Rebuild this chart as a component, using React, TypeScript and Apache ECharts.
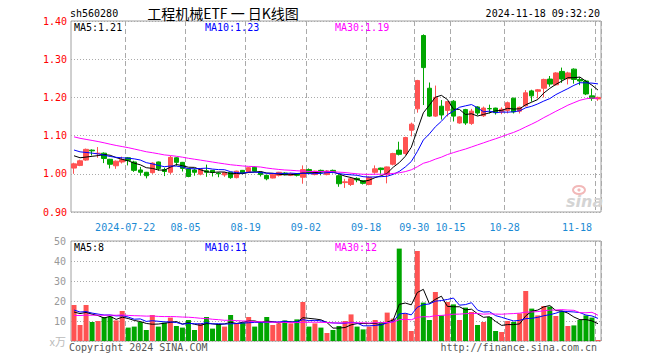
import React, { useEffect, useRef } from 'react';
import * as echarts from 'echarts';

const dates = [
  '2024-07-09','2024-07-10','2024-07-11','2024-07-12','2024-07-15','2024-07-16','2024-07-17','2024-07-18','2024-07-19','2024-07-22',
  '2024-07-23','2024-07-24','2024-07-25','2024-07-26','2024-07-29','2024-07-30','2024-07-31','2024-08-01','2024-08-02','2024-08-05',
  '2024-08-06','2024-08-07','2024-08-08','2024-08-09','2024-08-12','2024-08-13','2024-08-14','2024-08-15','2024-08-16','2024-08-19',
  '2024-08-20','2024-08-21','2024-08-22','2024-08-23','2024-08-26','2024-08-27','2024-08-28','2024-08-29','2024-08-30','2024-09-02',
  '2024-09-03','2024-09-04','2024-09-05','2024-09-06','2024-09-09','2024-09-10','2024-09-11','2024-09-12','2024-09-13','2024-09-18',
  '2024-09-19','2024-09-20','2024-09-23','2024-09-24','2024-09-25','2024-09-26','2024-09-27','2024-09-30','2024-10-08','2024-10-09',
  '2024-10-10','2024-10-11','2024-10-14','2024-10-15','2024-10-16','2024-10-17','2024-10-18','2024-10-21','2024-10-22','2024-10-23',
  '2024-10-24','2024-10-25','2024-10-28','2024-10-29','2024-10-30','2024-10-31','2024-11-01','2024-11-04','2024-11-05','2024-11-06',
  '2024-11-07','2024-11-08','2024-11-11','2024-11-12','2024-11-13','2024-11-14','2024-11-15','2024-11-18'
];

const opens = [
  1.015,1.022,1.036,1.062,1.053,1.054,1.038,1.021,1.031,1.042,
  1.031,1.010,1.004,1.003,1.031,1.011,1.004,1.042,1.030,1.013,
  1.010,0.999,1.008,1.009,1.002,0.997,1.004,0.990,1.009,1.004,
  1.017,1.004,0.996,0.989,0.996,1.002,0.996,1.000,0.991,1.011,
  0.998,1.009,0.998,1.009,0.995,0.977,0.972,0.988,0.982,0.972,
  1.004,1.015,0.998,1.025,1.062,1.053,1.114,1.170,1.362,1.224,
  1.151,1.177,1.166,1.190,1.133,1.168,1.132,1.175,1.152,1.171,
  1.172,1.162,1.166,1.198,1.164,1.178,1.217,1.216,1.224,1.248,
  1.233,1.268,1.249,1.274,1.247,1.243,1.204,1.196
];
const closes = [
  1.026,1.034,1.064,1.060,1.054,1.040,1.025,1.033,1.037,1.035,
  1.009,1.004,0.995,1.028,1.014,1.006,1.043,1.030,1.014,0.993,
  1.004,1.012,1.004,1.004,1.000,1.003,0.990,1.007,1.002,1.016,
  1.007,0.998,0.987,0.999,1.004,0.998,1.000,0.996,1.011,1.003,
  1.007,1.005,1.007,1.004,0.974,0.979,0.987,0.984,0.975,0.991,
  1.013,1.011,1.018,1.053,1.051,1.095,1.130,1.244,1.278,1.151,
  1.200,1.154,1.189,1.151,1.149,1.133,1.164,1.159,1.172,1.170,
  1.160,1.169,1.186,1.162,1.174,1.212,1.204,1.220,1.247,1.235,
  1.264,1.248,1.264,1.247,1.243,1.209,1.197,1.200
];
const lows = [
  1.000,1.020,1.034,1.048,1.042,1.028,1.014,1.013,1.027,1.022,
  1.005,0.995,0.988,1.000,1.008,0.994,0.999,1.021,1.006,0.991,
  0.995,0.996,0.992,0.993,0.991,0.992,0.987,0.988,0.999,1.002,
  1.005,0.993,0.983,0.988,0.993,0.996,0.994,0.993,0.974,1.000,
  0.996,0.996,0.996,1.001,0.966,0.963,0.968,0.978,0.972,0.970,
  1.000,1.000,0.975,1.022,1.048,1.050,1.098,1.160,1.180,1.149,
  1.149,1.142,1.150,1.137,1.131,1.128,1.128,1.153,1.149,1.158,
  1.155,1.156,1.158,1.158,1.158,1.176,1.189,1.197,1.200,1.228,
  1.231,1.238,1.234,1.236,1.232,1.206,1.191,1.191
];
const highs = [
  1.029,1.037,1.066,1.064,1.070,1.056,1.039,1.035,1.045,1.044,
  1.034,1.018,1.005,1.030,1.032,1.016,1.047,1.044,1.031,1.014,
  1.014,1.015,1.024,1.010,1.004,1.005,1.005,1.008,1.010,1.018,
  1.019,1.005,0.997,1.001,1.005,1.004,1.003,1.002,1.022,1.014,
  1.008,1.011,1.009,1.011,0.998,0.987,0.990,0.991,0.983,0.993,
  1.022,1.016,1.019,1.055,1.084,1.097,1.134,1.246,1.365,1.239,
  1.231,1.193,1.190,1.193,1.151,1.170,1.170,1.177,1.176,1.181,
  1.173,1.174,1.189,1.199,1.176,1.219,1.220,1.222,1.249,1.256,
  1.266,1.278,1.267,1.276,1.253,1.246,1.223,1.202
];
// volume in 万手
const volumes = [
  18.0,8.0,18.0,9.5,10.0,12.0,12.2,10.3,15.0,6.7,
  7.2,9.5,5.5,13.0,7.2,9.2,11.7,7.5,6.7,10.5,
  5.5,8.8,12.0,6.2,8.5,7.2,13.0,8.8,9.2,12.0,
  7.2,9.2,12.0,8.0,8.8,10.3,8.8,10.8,19.5,7.2,
  8.8,6.7,4.0,5.5,7.5,10.0,13.3,7.2,5.8,7.2,
  10.5,9.5,14.2,11.2,46.2,13.8,5.0,45.0,19.2,10.5,
  24.5,12.8,19.5,18.3,10.5,16.7,14.5,8.0,9.5,12.0,
  5.0,4.5,10.0,9.5,13.8,25.0,16.2,12.8,17.5,17.2,
  12.5,15.0,7.5,7.8,10.5,12.8,11.7,0.5
];
// sessions before the visible window (needed for the moving averages at the left edge)
const historyCloses = [
  1.150,1.148,1.145,1.140,1.138,1.135,1.130,1.126,1.120,1.115,
  1.110,1.105,1.100,1.098,1.095,1.092,1.090,1.085,1.080,1.078,
  1.082,1.080,1.078,1.075,1.072,1.060,1.055,1.050,1.045
];
const historyVolumes = [
  10,12,11,9,13,11,12,10,14,11,
  12,10,11,13,12,11,10,12,13,12,
  18,16,17,15,16.5,12,15,14,13.5
];
const tickDates = ['2024-07-22','2024-08-05','2024-08-19','2024-09-02','2024-09-18','2024-09-30','2024-10-15','2024-10-28','2024-11-18'];

const UP = '#ff5252';
const DOWN = '#00a600';
const MONO = '"DejaVu Sans Mono", monospace';

function movingAverage(hist: number[], vals: number[], n: number) {
  const all = hist.concat(vals);
  const off = hist.length;
  return vals.map((_, i) => {
    const end = off + i;
    if (end - n + 1 < 0) return null;
    let s = 0;
    for (let k = end - n + 1; k <= end; k++) s += all[k];
    return +(s / n).toFixed(4);
  });
}
const trunc2 = (v: number) => (Math.floor(v * 100 + 1e-9) / 100).toFixed(2);

export default function App() {
  const ref = useRef<HTMLDivElement>(null);
  useEffect(() => {
    if (!ref.current) return;
    const chart = echarts.init(ref.current, undefined, { renderer: 'svg' });
    const tickSet = new Set(tickDates);
    const showTick = (i: number) => tickSet.has(dates[i]);
    const ma5 = movingAverage(historyCloses, closes, 5);
    const ma10 = movingAverage(historyCloses, closes, 10);
    const ma30 = movingAverage(historyCloses, closes, 30);
    const vma5 = movingAverage(historyVolumes, volumes, 5);
    const vma10 = movingAverage(historyVolumes, volumes, 10);
    const vma30 = movingAverage(historyVolumes, volumes, 30);
    const last = dates.length - 1;
    const line = (name: string, data: any[], color: string, xi: number) => ({
      name, type: 'line', data, xAxisIndex: xi, yAxisIndex: xi, showSymbol: false, symbol: 'none',
      lineStyle: { color, width: 1 }, z: 5, silent: true,
    });
    const txt = (text: string, x: number, y: number, fill: string, align = 'left', font = `10px ${MONO}`) => ({
      type: 'text', x, y, silent: true, z: 100,
      style: { text, x: 0, y: 0, fill, font, align, verticalAlign: 'middle' },
    });
    const vSplit = { show: true, interval: showTick, lineStyle: { color: '#aaaaaa', type: [5, 3], width: 1 } };
    chart.setOption({
      animation: false,
      backgroundColor: '#ffffff',
      grid: [
        { left: 71, right: 59, top: 21, height: 191, show: true, borderColor: '#a0a0a0', borderWidth: 1, backgroundColor: 'transparent' },
        { left: 71, right: 59, top: 241, height: 100, show: true, borderColor: '#a0a0a0', borderWidth: 1, backgroundColor: 'transparent' },
      ],
      xAxis: [
        {
          type: 'category', data: dates, gridIndex: 0, boundaryGap: true,
          axisLine: { show: false }, axisTick: { show: false },
          axisLabel: {
            interval: showTick, color: '#1a8ad4', fontFamily: MONO, fontSize: 10, margin: 10,
            padding: [0, 6, 0, 0], alignMaxLabel: 'right',
            formatter: (v: string) => (v === '2024-07-22' ? v : v.slice(5)),
          },
          splitLine: vSplit,
        },
        {
          type: 'category', data: dates, gridIndex: 1, boundaryGap: true,
          axisLine: { show: false }, axisTick: { show: false }, axisLabel: { show: false },
          splitLine: vSplit,
        },
      ],
      yAxis: [
        {
          type: 'value', gridIndex: 0, min: 0.9, max: 1.4, interval: 0.1,
          axisLine: { show: false }, axisTick: { show: false },
          axisLabel: { color: '#ff0000', fontFamily: MONO, fontSize: 10, margin: 4, formatter: (v: number) => v.toFixed(2) },
          splitLine: { lineStyle: { color: '#aaaaaa', type: [1, 2] } },
        },
        {
          type: 'value', gridIndex: 1, min: 0, max: 50, interval: 10,
          axisLine: { show: false }, axisTick: { show: false },
          axisLabel: {
            color: '#999999', fontFamily: MONO, fontSize: 10, margin: 5,
            formatter: (v: number) => (v === 0 ? '{u|x万}' : String(v)),
            rich: { u: { color: '#bbbbbb', fontSize: 11, fontFamily: '"Noto Sans CJK SC"' } },
          },
          splitLine: { lineStyle: { color: '#aaaaaa', type: [1, 2] } },
        },
      ],
      series: [
        {
          type: 'candlestick', xAxisIndex: 0, yAxisIndex: 0, barWidth: 5, silent: true,
          data: dates.map((_, i) => [opens[i], closes[i], lows[i], highs[i]]),
          itemStyle: { color: UP, color0: DOWN, borderColor: UP, borderColor0: DOWN, borderWidth: 1 },
        },
        line('MA5', ma5, '#000000', 0),
        line('MA10', ma10, '#0000ff', 0),
        line('MA30', ma30, '#ff00ff', 0),
        {
          type: 'bar', xAxisIndex: 1, yAxisIndex: 1, barWidth: 5, silent: true,
          data: volumes.map((v, i) => ({ value: v, itemStyle: { color: closes[i] >= opens[i] ? UP : DOWN } })),
        },
        line('VMA5', vma5, '#000000', 1),
        line('VMA10', vma10, '#0000ff', 1),
        line('VMA30', vma30, '#ff00ff', 1),
      ],
      graphic: [
        txt('sh560280', 70, 13, '#000000'),
        txt('工程机械ETF 一 日K线图', 223, 13, '#000000', 'center', '14px "Noto Sans CJK SC"'),
        txt('2024-11-18 09:32:20', 600, 13, '#000000', 'right'),
        txt('MA5:' + trunc2(ma5[last] as number), 74, 27, '#000000'),
        txt('MA10:' + trunc2(ma10[last] as number), 205, 27, '#0000ff'),
        txt('MA30:' + trunc2(ma30[last] as number), 335, 27, '#ff00ff'),
        txt('MA5:' + Math.floor(vma5[last] as number), 74, 247, '#000000'),
        txt('MA10:' + Math.floor(vma10[last] as number), 205, 247, '#0000ff'),
        txt('MA30:' + Math.floor(vma30[last] as number), 335, 247, '#ff00ff'),
        txt('Copyright 2024 SINA.COM', 69, 347, '#555555'),
        txt('http://finance.sina.com.cn', 597, 347, '#555555', 'right'),
        {
          type: 'ellipse', silent: true, z: 1,
          shape: { cx: 579, cy: 190, rx: 6, ry: 4 },
          style: { fill: 'none', stroke: '#f2b8b8', lineWidth: 2 },
        },
        { type: 'circle', silent: true, z: 1, shape: { cx: 579, cy: 190, r: 1.6 }, style: { fill: '#f2b8b8' } },
        txt('sina', 566, 201, '#d4d4d4', 'left', 'italic bold 16px "DejaVu Sans"'),
      ],
    });
    return () => chart.dispose();
  }, []);
  return (
    <div
      ref={ref}
      style={{ position: 'absolute', left: 0, top: 0, width: 660, height: 360, background: '#fff' }}
    />
  );
}
